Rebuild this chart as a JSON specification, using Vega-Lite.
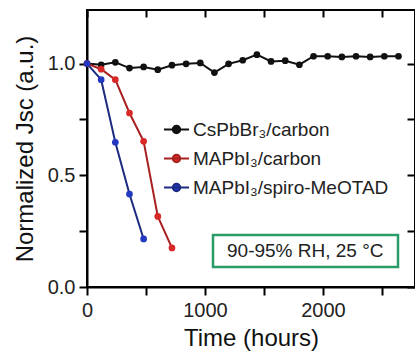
{
  "$schema": "https://vega.github.io/schema/vega-lite/v6.json",
  "width": 328,
  "height": 277,
  "autosize": {"type": "none"},
  "padding": {"left": 87, "top": 10, "right": 0, "bottom": 71},
  "background": "white",
  "config": {
    "view": {"stroke": "#000", "strokeWidth": 2},
    "font": "Liberation Sans",
    "axis": {"domainColor": "#000", "domainWidth": 2, "ticks": true, "tickColor": "#000", "tickWidth": 2, "labelColor": "#222", "titleColor": "#111", "grid": false, "labelFont": "Liberation Sans", "titleFont": "Liberation Sans", "titleFontWeight": "normal"}
  },
  "datasets": {
    "pts": [
      {"series": "CsPbBr₃/carbon", "t": 0, "v": 1.0},
      {"series": "CsPbBr₃/carbon", "t": 120, "v": 0.995},
      {"series": "CsPbBr₃/carbon", "t": 240, "v": 1.006},
      {"series": "CsPbBr₃/carbon", "t": 360, "v": 0.98},
      {"series": "CsPbBr₃/carbon", "t": 480, "v": 0.985},
      {"series": "CsPbBr₃/carbon", "t": 600, "v": 0.973},
      {"series": "CsPbBr₃/carbon", "t": 720, "v": 0.993},
      {"series": "CsPbBr₃/carbon", "t": 840, "v": 0.999},
      {"series": "CsPbBr₃/carbon", "t": 960, "v": 1.003},
      {"series": "CsPbBr₃/carbon", "t": 1080, "v": 0.96},
      {"series": "CsPbBr₃/carbon", "t": 1200, "v": 0.999},
      {"series": "CsPbBr₃/carbon", "t": 1320, "v": 1.015},
      {"series": "CsPbBr₃/carbon", "t": 1440, "v": 1.04},
      {"series": "CsPbBr₃/carbon", "t": 1560, "v": 1.01},
      {"series": "CsPbBr₃/carbon", "t": 1680, "v": 1.013},
      {"series": "CsPbBr₃/carbon", "t": 1800, "v": 0.995},
      {"series": "CsPbBr₃/carbon", "t": 1920, "v": 1.033},
      {"series": "CsPbBr₃/carbon", "t": 2040, "v": 1.033},
      {"series": "CsPbBr₃/carbon", "t": 2160, "v": 1.03},
      {"series": "CsPbBr₃/carbon", "t": 2280, "v": 1.033},
      {"series": "CsPbBr₃/carbon", "t": 2400, "v": 1.03},
      {"series": "CsPbBr₃/carbon", "t": 2520, "v": 1.033},
      {"series": "CsPbBr₃/carbon", "t": 2640, "v": 1.033},
      {"series": "MAPbI₃/carbon", "t": 0, "v": 1.0},
      {"series": "MAPbI₃/carbon", "t": 120, "v": 0.975},
      {"series": "MAPbI₃/carbon", "t": 240, "v": 0.928},
      {"series": "MAPbI₃/carbon", "t": 360, "v": 0.779},
      {"series": "MAPbI₃/carbon", "t": 480, "v": 0.652},
      {"series": "MAPbI₃/carbon", "t": 600, "v": 0.316},
      {"series": "MAPbI₃/carbon", "t": 720, "v": 0.175},
      {"series": "MAPbI₃/spiro-MeOTAD", "t": 0, "v": 1.0},
      {"series": "MAPbI₃/spiro-MeOTAD", "t": 120, "v": 0.928},
      {"series": "MAPbI₃/spiro-MeOTAD", "t": 240, "v": 0.648},
      {"series": "MAPbI₃/spiro-MeOTAD", "t": 360, "v": 0.416},
      {"series": "MAPbI₃/spiro-MeOTAD", "t": 480, "v": 0.215}
    ],
    "note": [
      {"x1": 1068, "x2": 2636, "y1": 0.09, "y2": 0.233, "xc": 1850, "yc": 0.161, "text": "90-95% RH, 25 °C"}
    ]
  },
  "resolve": {"axis": {"x": "independent", "y": "independent"}},
  "layer": [
    {
      "data": {"name": "pts"},
      "mark": {"type": "line", "strokeWidth": 2},
      "encoding": {
        "x": {"field": "t", "type": "quantitative",
          "scale": {"domain": [0, 2780], "nice": false, "zero": false},
          "axis": {"orient": "bottom", "title": "Time (hours)", "values": [0, 500, 1000, 1500, 2000, 2500],
            "labelExpr": "datum.value % 1000 === 0 ? format(datum.value, 'd') : ''",
            "ticks": true, "tickSize": 8,
            "labelFontSize": 20, "labelPadding": 5, "titleFontSize": 24, "titlePadding": 6, "labelFlush": false}},
        "y": {"field": "v", "type": "quantitative",
          "scale": {"domain": [0, 1.24], "nice": false, "zero": false},
          "axis": {"orient": "left", "title": "Normalized Jsc (a.u.)", "values": [0, 0.25, 0.5, 0.75, 1.0],
            "labelExpr": "(datum.value * 2) % 1 === 0 ? format(datum.value, '.1f') : ''",
            "ticks": true, "tickSize": 8,
            "labelFontSize": 20, "labelPadding": 4, "titleFontSize": 24, "titlePadding": 10}},
        "stroke": {"field": "series", "type": "nominal",
          "scale": {"domain": ["CsPbBr₃/carbon", "MAPbI₃/carbon", "MAPbI₃/spiro-MeOTAD"], "range": ["#111111", "#a82020", "#1c2a80"]},
          "legend": {"title": null, "orient": "none", "legendX": 76, "legendY": 106, "padding": 0,
            "labelFontSize": 19, "labelColor": "#222", "labelFont": "Liberation Sans", "labelOffset": 3, "labelLimit": 0,
            "symbolType": "M-1,0H1M-0.3,0a0.3,0.3 0 1,0 0.6,0a0.3,0.3 0 1,0 -0.6,0",
            "symbolSize": 625, "symbolStrokeWidth": 2, "rowPadding": 5,
            "encode": {"symbols": {"update": {"fill": {"scale": "fill", "field": "value"}}}}}}
      }
    },
    {
      "data": {"name": "pts"},
      "mark": {"type": "point", "filled": true, "size": 45, "opacity": 1},
      "encoding": {
        "x": {"field": "t", "type": "quantitative",
          "axis": {"orient": "top", "title": null, "labels": false, "domain": false, "ticks": true, "offset": -7, "values": [0, 500, 1000, 1500, 2000, 2500],
            "tickSize": 7}},
        "y": {"field": "v", "type": "quantitative",
          "axis": {"orient": "right", "title": null, "labels": false, "domain": false, "ticks": true, "offset": -8, "values": [0, 0.25, 0.5, 0.75, 1.0],
            "tickSize": 8}},
        "fill": {"field": "series", "type": "nominal",
          "scale": {"domain": ["CsPbBr₃/carbon", "MAPbI₃/carbon", "MAPbI₃/spiro-MeOTAD"], "range": ["#111111", "#d82828", "#2238c0"]},
          "legend": null}
      }
    },
    {
      "data": {"name": "note"},
      "mark": {"type": "rect", "fill": "white", "stroke": "#2a9c68", "strokeWidth": 2.5},
      "encoding": {
        "x": {"field": "x1", "type": "quantitative", "axis": null},
        "x2": {"field": "x2"},
        "y": {"field": "y1", "type": "quantitative", "axis": null},
        "y2": {"field": "y2"}
      }
    },
    {
      "data": {"name": "note"},
      "mark": {"type": "text", "fontSize": 19, "color": "#222", "font": "Liberation Sans", "align": "center", "baseline": "middle"},
      "encoding": {
        "x": {"field": "xc", "type": "quantitative", "axis": null},
        "y": {"field": "yc", "type": "quantitative", "axis": null},
        "text": {"field": "text"}
      }
    }
  ]
}
